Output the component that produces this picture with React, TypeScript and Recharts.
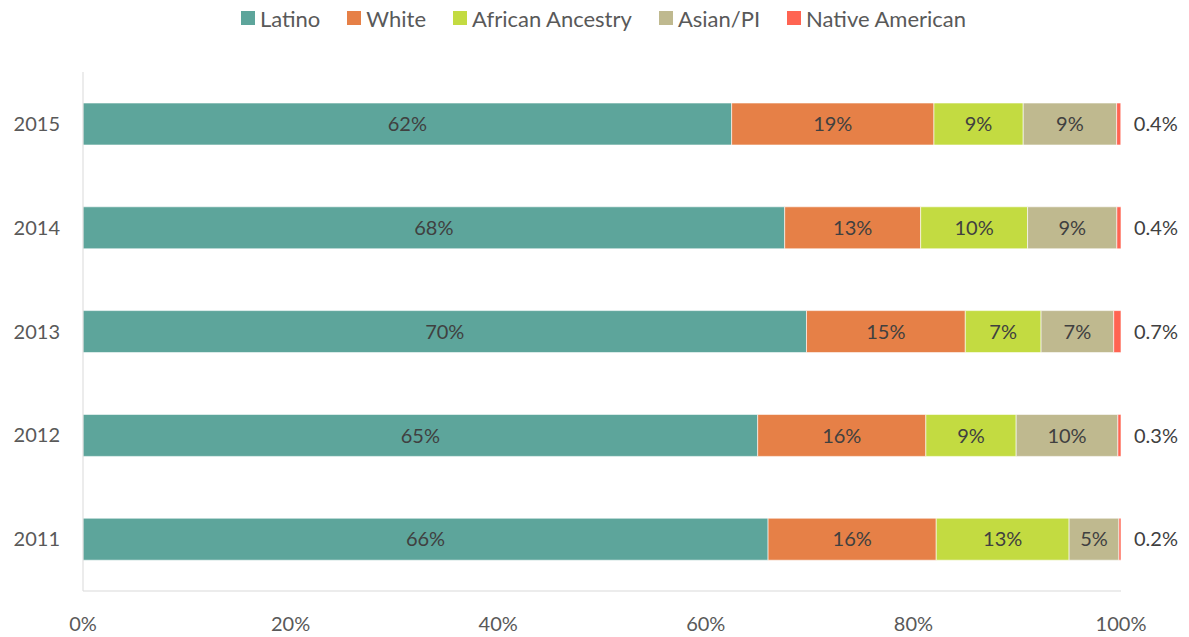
import { Bar, BarChart, LabelList, Legend, XAxis, YAxis } from "recharts";

const years = ["2015", "2014", "2013", "2012", "2011"];
const latino = [62.49, 67.6, 69.7, 65.0, 66.0];
const white = [19.49, 13.1, 15.3, 16.2, 16.2];
const african = [8.6, 10.3, 7.3, 8.7, 12.8];
const asian = [9.0, 8.6, 7.0, 9.8, 4.8];
const native = [0.4, 0.4, 0.7, 0.3, 0.2];
const xTicks = [0, 20, 40, 60, 80, 100];

const series = [
  { key: "latino", name: "Latino", color: "#5DA59B" },
  { key: "white", name: "White", color: "#E68047" },
  { key: "african", name: "African Ancestry", color: "#C3DB41" },
  { key: "asian", name: "Asian/PI", color: "#BFB98F" },
  { key: "native", name: "Native American", color: "#FF6452" },
];

const data = years.map((year, i) => ({
  year,
  latino: latino[i],
  white: white[i],
  african: african[i],
  asian: asian[i],
  native: native[i],
}));

const font = "Lato, 'Open Sans', sans-serif";

function LegendRow() {
  return (
    <div style={{ display: "flex", justifyContent: "center", alignItems: "center", gap: 27, height: 28, fontSize: 22, color: "#595959" }}>
      {series.map((s) => (
        <div key={s.key} style={{ display: "flex", alignItems: "center" }}>
          <span style={{ display: "inline-block", width: 14, height: 14, background: s.color, marginRight: 5 }} />
          <span>{s.name}</span>
        </div>
      ))}
    </div>
  );
}

export default function App() {
  return (
    <div style={{ position: "absolute", left: 0, top: 0, fontFamily: font }}>
      <BarChart width={1189} height={637} data={data} layout="vertical" margin={{ top: 44, right: 68, left: 0, bottom: 0 }}>
        <Legend
          verticalAlign="top"
          align="center"
          content={() => <LegendRow />}
          wrapperStyle={{ top: 4, left: 0, width: 1207, height: 28 }}
        />
        <XAxis
          type="number"
          domain={[0, 100]}
          ticks={xTicks}
          tickFormatter={(v: number) => `${v}%`}
          axisLine={{ stroke: "#D9D9D9" }}
          tickLine={false}
          tickSize={0}
          tickMargin={26}
          height={46}
          tick={{ fill: "#595959", fontSize: 20 }}
        />
        <YAxis
          type="category"
          dataKey="year"
          width={83}
          axisLine={{ stroke: "#D9D9D9" }}
          tickLine={false}
          tickSize={0}
          tickMargin={23}
          tick={{ fill: "#595959", fontSize: 20 }}
        />
        {series.map((s) => (
          <Bar key={s.key} dataKey={s.key} name={s.name} stackId="a" fill={s.color} stroke="#ffffff" strokeWidth={0.6} barSize={42} isAnimationActive={false}>
            {s.key === "native" ? (
              <LabelList dataKey={s.key} position="right" offset={13} fill="#404040" fontSize={20} formatter={(v: number) => `${v.toFixed(1)}%`} />
            ) : (
              <LabelList dataKey={s.key} position="center" fill="#404040" fontSize={20} formatter={(v: number) => `${Math.round(v)}%`} />
            )}
          </Bar>
        ))}
      </BarChart>
    </div>
  );
}
